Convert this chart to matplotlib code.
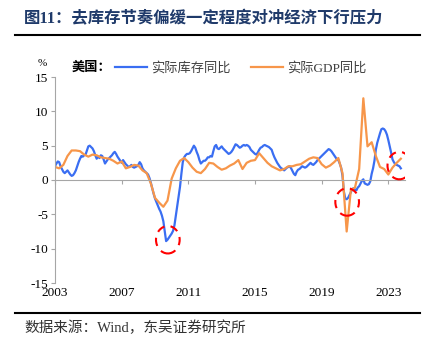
import numpy as np
import matplotlib
matplotlib.use("Agg")
import matplotlib.pyplot as plt
from matplotlib.patches import Ellipse
from matplotlib.lines import Line2D

plt.rcParams['axes.unicode_minus'] = False

# 美国实际库存同比（月度，2003年1月起）
inv_2003 = [2.0, 2.4, 2.7, 2.6, 2.0, 1.6, 1.2, 1.0, 1.2, 1.4, 1.1, 0.8]
inv_2004 = [0.6, 0.7, 1.0, 1.4, 2.0, 2.6, 3.1, 3.5, 3.4, 3.6, 3.7, 4.3]
inv_2005 = [4.9, 5.0, 4.8, 4.6, 4.2, 3.6, 3.1, 3.4, 3.2, 3.6, 3.5, 3.0]
inv_2006 = [2.4, 2.7, 3.0, 3.2, 3.4, 3.6, 3.9, 4.1, 3.8, 3.4, 3.1, 2.8]
inv_2007 = [2.5, 2.9, 2.6, 2.3, 2.1, 1.9, 2.0, 2.2, 1.9, 1.8, 1.9, 2.0]
inv_2008 = [2.2, 2.6, 2.3, 1.7, 1.4, 1.2, 1.0, 0.8, 0.3, -0.4, -1.2, -2.0]
inv_2009 = [-2.7, -3.2, -3.7, -4.2, -4.6, -5.2, -6.0, -7.5, -8.9, -8.7, -8.4, -8.1]
inv_2010 = [-7.8, -7.4, -6.6, -5.2, -3.9, -2.5, -1.0, 0.9, 2.6, 3.3, 3.6, 3.8]
inv_2011 = [3.8, 3.9, 4.2, 4.6, 5.0, 4.7, 4.1, 3.6, 2.9, 2.4, 2.6, 2.8]
inv_2012 = [2.8, 3.0, 3.3, 3.3, 3.5, 3.4, 4.2, 4.9, 5.1, 4.6, 4.5, 4.7]
inv_2013 = [4.9, 4.6, 4.4, 4.2, 4.0, 3.8, 3.9, 4.1, 4.4, 4.8, 5.2, 5.1]
inv_2014 = [4.9, 4.7, 4.8, 5.0, 5.1, 5.0, 5.1, 5.0, 4.8, 4.4, 4.2, 4.0]
inv_2015 = [3.8, 3.7, 4.0, 4.4, 4.7, 4.8, 5.0, 5.1, 5.0, 4.9, 4.8, 4.6]
inv_2016 = [4.4, 3.8, 3.3, 2.9, 2.5, 2.2, 1.9, 1.7, 1.6, 1.4, 1.6, 1.8]
inv_2017 = [1.9, 2.0, 1.7, 1.3, 0.9, 0.7, 1.2, 1.5, 1.6, 1.8, 2.0, 1.9]
inv_2018 = [1.8, 1.9, 2.1, 2.3, 2.5, 2.3, 2.2, 2.4, 2.6, 2.9, 3.1, 3.3]
inv_2019 = [3.5, 3.7, 3.9, 4.1, 4.3, 4.5, 4.4, 4.2, 3.9, 3.6, 3.3, 3.0]
inv_2020 = [2.9, 2.4, 1.8, 0.6, -1.7, -2.7, -2.8, -2.6, -2.2, -1.8, -1.3, -1.2]
inv_2021 = [-1.4, -1.5, -1.1, -0.9, -0.5, -0.1, 0.1, -0.5, -0.6, -0.7, -0.6, -0.2]
inv_2022 = [0.9, 1.7, 2.8, 4.4, 5.4, 6.1, 6.8, 7.4, 7.5, 7.4, 7.1, 6.6]
inv_2023 = [5.8, 4.9, 4.0, 3.0, 2.6, 2.3, 2.2, 2.1, 2.0, 1.7]

# 美国实际GDP同比（季度，2002Q4起，按季末）
gdp = [1.9, 1.7, 2.2, 3.5, 4.3,
       4.3, 4.2, 3.7, 3.4,
       3.7, 3.6, 3.3, 3.2,
       3.1, 2.8, 2.4, 2.7,
       1.7, 1.9, 2.2, 2.1,
       1.4, 1.0, -0.5, -2.6,
       -3.3, -3.9, -3.0, 0.2,
       1.7, 2.8, 3.2, 2.6,
       1.8, 1.2, 1.0, 1.6,
       2.5, 2.4, 1.9, 1.5,
       1.7, 2.1, 2.4, 2.9,
       1.6, 2.5, 2.8, 2.9,
       3.9, 3.2, 2.5, 2.0,
       1.7, 1.4, 1.6, 2.0,
       2.0, 2.2, 2.3, 2.7,
       3.1, 3.3, 3.2, 2.3,
       1.8, 2.1, 2.6, 3.2,
       1.0, -7.5, -1.5, -1.1,
       1.6, 11.9, 4.9, 5.5,
       3.5, 1.9, 1.6, 0.8,
       1.8, 2.5, 3.1]

inventory = (inv_2003 + inv_2004 + inv_2005 + inv_2006 + inv_2007 + inv_2008 +
             inv_2009 + inv_2010 + inv_2011 + inv_2012 + inv_2013 + inv_2014 +
             inv_2015 + inv_2016 + inv_2017 + inv_2018 + inv_2019 + inv_2020 +
             inv_2021 + inv_2022 + inv_2023)
inv_t = 2003 + np.arange(len(inventory)) / 12.0
gdp_t = 2003 + np.arange(len(gdp)) * 0.25

# 红圈标注（年份, 数值）
marks_x = [2009.77, 2020.53, 2023.66]
marks_y = [-8.7, -3.2, 2.1]

years = [2003, 2007, 2011, 2015, 2019, 2023]
yticks = [-15, -10, -5, 0, 5, 10, 15]

blue = '#3A6EF2'
orange = '#F7964A'
cjk = ['Liberation Serif', 'Noto Sans CJK SC']

fig = plt.figure(figsize=(4.35, 3.49), dpi=100)
ax = fig.add_axes([55/435, 1-283/349, 350/435, 206/349])

ax.plot(inv_t, inventory, color=blue, lw=1.6, label='实际库存同比')
ax.plot(gdp_t, gdp, color=orange, lw=1.6, label='实际GDP同比')

for cx, cy in zip(marks_x, marks_y):
    ax.add_patch(Ellipse((cx, cy), 1.42, 4.0, fill=False, ec='red',
                         lw=1.5, ls=(0, (4, 3)), zorder=5))

ax.set_xlim(2003, 2024)
ax.set_ylim(-15, 15)
ax.set_yticks(yticks)
ax.set_yticklabels([str(v) for v in yticks], family='Liberation Serif', fontsize=9.5)

for s in ['top', 'right']:
    ax.spines[s].set_visible(False)
ax.spines['left'].set_color('#A6A6A6')
ax.spines['bottom'].set_position(('data', 0))
ax.spines['bottom'].set_color('#A6A6A6')
ax.set_xticks(years)
ax.tick_params(axis='x', labelbottom=False, direction='out', length=3, color='#A6A6A6')
ax.tick_params(axis='y', direction='out', length=3, color='#A6A6A6', pad=2)

sec = ax.secondary_xaxis('bottom')
sec.spines['bottom'].set_visible(False)
sec.set_xticks(years)
sec.set_xticklabels([str(y) for y in years], family='Liberation Serif', fontsize=9.5)
sec.tick_params(length=0, pad=3)

leg = ax.legend(loc='center left', bbox_to_anchor=(115/435, 1-68/349),
                bbox_transform=fig.transFigure, ncol=2, frameon=False,
                handlelength=2.4, handletextpad=0.3, columnspacing=1.6,
                borderpad=0, borderaxespad=0, prop={'family': cjk, 'size': 9.5})
for txt in leg.get_texts():
    txt.set_color('#404040')

fig.text(38/435, 1-63/349, '%', family='Liberation Serif', fontsize=8, ha='left', va='center')
fig.text(72/435, 1-68/349, '美国：', family=cjk, fontsize=9.5, weight='bold', ha='left', va='center')

fig.text(24/435, 1-19/349, '图11：去库存节奏偏缓一定程度对冲经济下行压力', family=cjk,
         fontsize=11.8, weight='bold', color='#1F3A6A', ha='left', va='center')
fig.add_artist(Line2D([15/435, 420/435], [1-35/349, 1-35/349], color='black', lw=1.5))
fig.add_artist(Line2D([15/435, 420/435], [1-313/349, 1-313/349], color='black', lw=1.5))
fig.text(24/435, 1-328/349, '数据来源：Wind，东吴证券研究所', family=cjk,
         fontsize=10.5, color='#333333', ha='left', va='center')

fig.savefig('out.png', dpi=100)
